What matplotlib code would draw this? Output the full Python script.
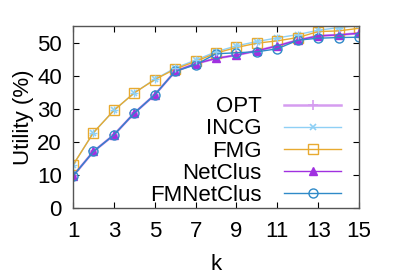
import matplotlib
matplotlib.use("Agg")
import matplotlib.pyplot as plt

plt.rcParams['font.family'] = ['Liberation Sans', 'DejaVu Sans']

k = list(range(1, 16))
opt = [9.7, 17.1, 22.1, 28.7, 34.2, 41.3, 43.6, 45.2, 46.2, 47.5, 49.0, 50.7, 52.0, 52.3, 52.8]
incg = [13.0, 22.8, 29.5, 34.8, 38.9, 42.3, 44.7, 47.2, 49.0, 50.3, 51.4, 52.4, 53.7, 54.5, 55.2]
fmg = [13.0, 22.8, 29.5, 34.8, 38.8, 42.0, 44.3, 46.8, 48.5, 49.8, 50.5, 51.5, 53.3, 53.5, 54.3]
netclus = [9.7, 17.1, 22.1, 28.7, 34.2, 41.3, 43.6, 45.2, 46.2, 47.5, 49.0, 50.7, 52.0, 52.3, 52.8]
fmnetclus = [9.7, 17.1, 22.1, 28.7, 34.2, 41.3, 43.3, 46.6, 46.9, 47.2, 48.1, 50.7, 51.3, 51.5, 51.6]

xticks = [1, 3, 5, 7, 9, 11, 13, 15]
yticks = [0, 10, 20, 30, 40, 50]

FS = 16

fig = plt.figure(figsize=(3.99, 2.79), dpi=100)
ax = fig.add_axes([0.183, 0.254, 0.717, 0.653])

ax.plot(k, opt, color='#d59cf0', lw=1.8, marker='+', ms=7, mew=1.2, label='OPT')
ax.plot(k, incg, color='#8fd0f5', lw=1.0, marker='x', ms=5, mew=1.2, label='INCG')
ax.plot(k, fmg, color='#e8aa30', lw=1.0, marker='s', ms=6.5, mfc='none', mew=1.0, label='FMG')
ax.plot(k, netclus, color='#a030e0', lw=1.0, marker='^', ms=5.5, label='NetClus')
ax.plot(k, fmnetclus, color='#2f8ac8', lw=1.0, marker='o', ms=6.5, mfc='none', mew=1.0, label='FMNetClus')
ax.plot(k, incg, color='#8fd0f5', lw=0, marker='+', ms=6, mew=1.0)

ax.set_xlim(1, 15)
ax.set_ylim(0, 55)
ax.set_xticks(xticks)
ax.set_xticks(range(1, 16), minor=True)
ax.set_yticks(yticks)
ax.tick_params(which='both', direction='in', top=True, right=True, labelsize=FS)
ax.tick_params(axis='x', pad=9)
ax.tick_params(axis='y', pad=8)
ax.tick_params(which='major', length=4)
ax.tick_params(which='minor', length=0)
for s in ax.spines.values():
    s.set_color('#555555')
    s.set_linewidth(1.0)

ax.set_xlabel('k', fontsize=FS, labelpad=9)
ax.set_ylabel('Utility (%)', fontsize=FS, labelpad=2)

leg = ax.legend(loc='lower right', bbox_to_anchor=(0.985, -0.06), frameon=False, markerfirst=False,
                fontsize=FS, handlelength=2.6, labelspacing=0.05, handletextpad=1.0, borderaxespad=0.2)
for t in leg.get_texts():
    t.set_ha('right')

fig.savefig('out.png', dpi=100)
